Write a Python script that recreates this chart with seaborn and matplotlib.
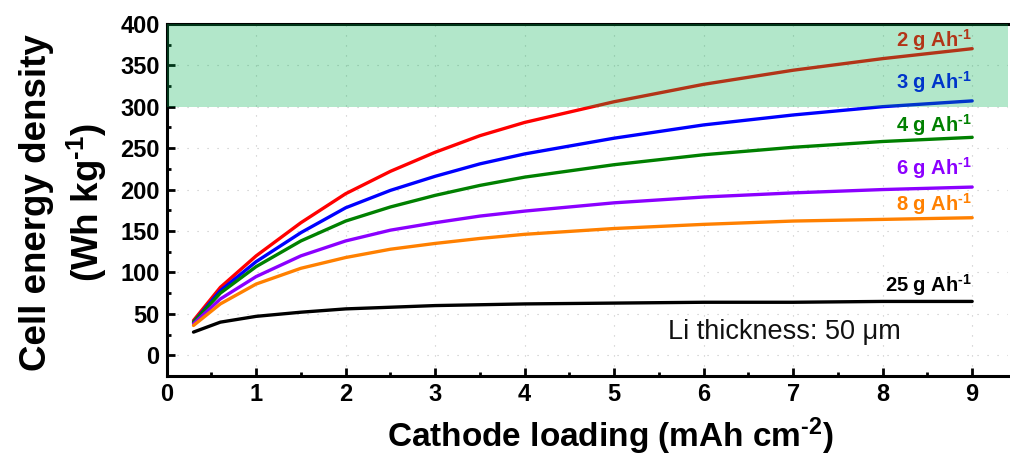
import numpy as np
import pandas as pd
import seaborn as sns
import matplotlib.pyplot as plt
from matplotlib.ticker import MultipleLocator

sns.set_theme(style="ticks")
plt.rcParams['font.family'] = ['Liberation Sans', 'DejaVu Sans']
plt.rcParams['mathtext.fontset'] = 'custom'
plt.rcParams['mathtext.rm'] = 'Liberation Sans:bold'
plt.rcParams['mathtext.default'] = 'regular'
plt.rcParams['axes.unicode_minus'] = False
plt.rcParams['text.color'] = 'black'
plt.rcParams['axes.labelcolor'] = 'black'

# Cathode loading (mAh cm^-2)
loading = [0.3, 0.6, 1.0, 1.5, 2.0, 2.5, 3.0, 3.5, 4.0, 5.0, 6.0, 7.0, 8.0, 9.0]

# Cell energy density (Wh kg^-1) for each electrolyte/capacity ratio
e_2 = [42, 82, 120, 160, 195, 222, 245, 265, 281, 306, 327, 344, 358, 370]
e_3 = [40, 78, 113, 148, 178, 199, 216, 231, 243, 262, 278, 290, 300, 307]
e_4 = [40, 75, 107, 138, 162, 179, 193, 205, 215, 230, 242, 251, 258, 263]
e_6 = [38, 68, 95, 120, 138, 151, 160, 168, 174, 184, 191, 196, 200, 203]
e_8 = [36, 62, 86, 105, 118, 128, 135, 141, 146, 153, 158, 162, 164, 166]
e_25 = [28, 40, 47, 52, 56, 58, 60, 61, 62, 63, 64, 64, 65, 65]

ratio_labels = [r'2 g Ah$^{\text{-1}}$', r'3 g Ah$^{\text{-1}}$',
                r'4 g Ah$^{\text{-1}}$', r'6 g Ah$^{\text{-1}}$',
                r'8 g Ah$^{\text{-1}}$', r'25 g Ah$^{\text{-1}}$']
label_y = [381, 330, 278, 226, 182, 85]
colors = ['#ff0000', '#0000ff', '#008000', '#8b00ff', '#ff8000', '#000000']

series = [e_2, e_3, e_4, e_6, e_8, e_25]
df = pd.DataFrame({
    'loading': np.tile(loading, len(series)),
    'energy': np.concatenate(series),
    'ratio': np.repeat(ratio_labels, len(loading)),
})

fig = plt.figure(figsize=(10.1, 4.58), dpi=100)
ax = fig.add_axes([0.165, 0.179, 0.833, 0.769])

sns.lineplot(data=df, x='loading', y='energy', hue='ratio',
             hue_order=ratio_labels, palette=colors, linewidth=2.4,
             legend=False, ax=ax, zorder=3)

for lab, y, c in zip(ratio_labels, label_y, colors):
    ax.text(9.0, y, lab, color=c, fontsize=14.5, fontweight='bold',
            ha='right', va='center', zorder=4)

ax.text(5.6, 28, 'Li thickness: 50 \u03bcm', fontsize=19.5,
        ha='left', va='center', color='#111111')

# target region above 300 Wh/kg
ax.axhspan(300, 400, color='#00b050', alpha=0.3, lw=0, zorder=5)

ax.set_xlim(0, 9.4)
ax.set_ylim(-25, 400)
ax.xaxis.set_major_locator(MultipleLocator(1))
ax.xaxis.set_minor_locator(MultipleLocator(0.5))
ax.yaxis.set_minor_locator(MultipleLocator(25))
ax.set_yticks(range(0, 401, 50))

ax.grid(True, which='major', color='#c4c4c4', linestyle=(0, (1, 8)),
        linewidth=0.8, zorder=0)

ax.tick_params(which='both', direction='in', width=2, labelsize=17,
               colors='black', pad=5)
ax.tick_params(which='major', length=6)
ax.tick_params(which='minor', length=3)
for lab in ax.get_xticklabels() + ax.get_yticklabels():
    lab.set_fontweight('bold')

for side in ['left', 'bottom', 'top']:
    ax.spines[side].set_linewidth(2.2)
    ax.spines[side].set_color('black')
ax.spines['right'].set_visible(False)

ax.set_xlabel(r'Cathode loading (mAh cm$^{\text{-2}}$)', fontsize=24,
              fontweight='bold')
ax.set_ylabel('Cell energy density\n' + r'(Wh kg$^{\text{-1}}$)',
              fontsize=26.5, fontweight='bold', linespacing=1.3)
ax.xaxis.set_label_coords(0.528, -0.112)
ax.yaxis.set_label_coords(-0.069, 0.493)

fig.savefig('out.png', dpi=100)
